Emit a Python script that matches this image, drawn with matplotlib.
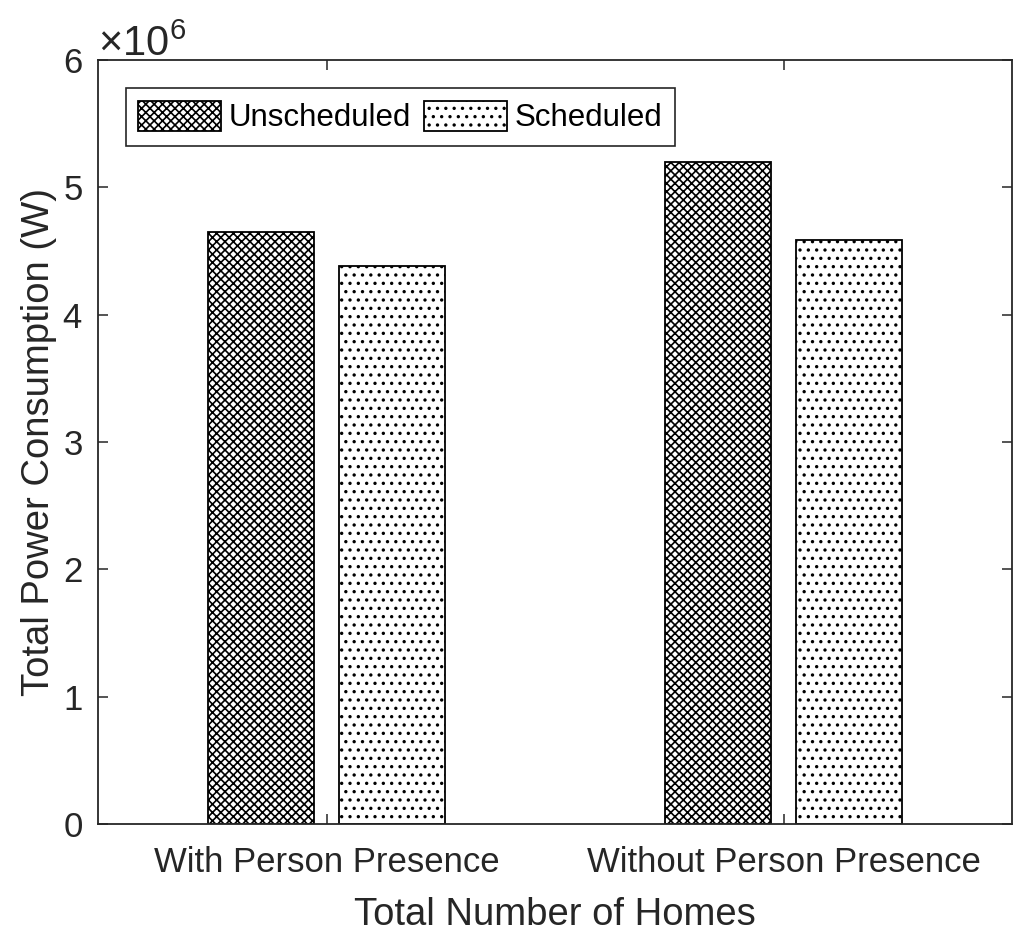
import numpy as np
import matplotlib
matplotlib.use('Agg')
import matplotlib.pyplot as plt
from matplotlib.ticker import ScalarFormatter

plt.rcParams['font.family'] = ['Liberation Sans', 'DejaVu Sans']
plt.rcParams['mathtext.fontset'] = 'custom'
plt.rcParams['mathtext.rm'] = 'Liberation Sans'
plt.rcParams['mathtext.it'] = 'Liberation Sans:italic'
plt.rcParams['hatch.linewidth'] = 1.2

## DATA
categories = ['With Person Presence', 'Without Person Presence']
unscheduled = [4.65e6, 5.20e6]
scheduled = [4.38e6, 4.59e6]

gray = '#262626'

fig = plt.figure(figsize=(10.24, 9.52), dpi=100)
ax = fig.add_axes([0.0957, 0.1345, 0.8926, 0.8025])

x = np.arange(1, len(categories) + 1)
w = 0.232
off = 0.144
ax.bar(x - off, unscheduled, w, color='white', edgecolor='black', linewidth=1.3,
       hatch='xxxx', label='Unscheduled')
ax.bar(x + off, scheduled, w, color='white', edgecolor='black', linewidth=1.3,
       hatch='..', label='Scheduled')

ax.set_xlim(0.5, 2.5)
ax.set_ylim(0, 6e6)
ax.set_xticks(x)
ax.set_xticklabels(categories)
ax.set_yticks(np.arange(0, 7e6, 1e6))

fmt = ScalarFormatter(useMathText=True)
fmt.set_powerlimits((0, 0))
ax.yaxis.set_major_formatter(fmt)
ax.yaxis.get_offset_text().set_fontsize(30)
ax.yaxis.get_offset_text().set_color(gray)

ax.tick_params(direction='in', length=7, width=1.1, colors=gray, labelsize=25,
               top=True, right=True)
ax.tick_params(axis='x', pad=16)
ax.tick_params(axis='y', pad=11)
for s in ax.spines.values():
    s.set_color(gray)
    s.set_linewidth(1.3)

ax.set_xlabel('Total Number of Homes', fontsize=27.5, color=gray, labelpad=13)
ax.set_ylabel('Total Power Consumption (W)', fontsize=27.5, color=gray, labelpad=4)

leg = ax.legend(loc='upper left', bbox_to_anchor=(0.0306, 0.963), borderaxespad=0,
                ncol=2, fontsize=22.5, fancybox=False, framealpha=1,
                edgecolor=gray, handlelength=2.65, handleheight=1.1,
                handletextpad=0.25, columnspacing=0.4, borderpad=0.4)
leg.get_frame().set_linewidth(1.2)
for t in leg.get_texts():
    t.set_color('black')

fig.savefig('out.png', dpi=100)
